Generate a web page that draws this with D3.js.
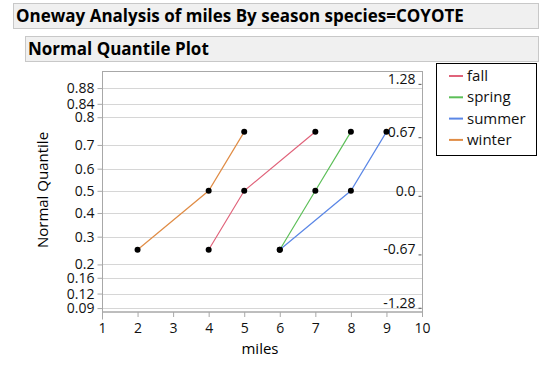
<!DOCTYPE html>
<html>
<head>
<meta charset="utf-8">
<script src="https://cdn.jsdelivr.net/npm/d3@7"></script>
<style>
  body { margin: 0; background: #fff; }
  svg { display: block; font-family: "Open Sans", "Noto Sans", sans-serif; }
</style>
</head>
<body>
<svg id="chart" width="541" height="371"></svg>
<script>
// chart data
const seasons = ["fall", "spring", "summer", "winter"];
const seasonColors = ["#e0637a", "#5cbf58", "#5b87e6", "#e08c45"];
const probs = [0.25, 0.5, 0.75];
const miles = {
    fall:   [4, 5, 7],
    spring: [6, 7, 8],
    summer: [6, 8, 9],
    winter: [2, 4, 5]
};
const xTicks = [1, 2, 3, 4, 5, 6, 7, 8, 9, 10];
const probTicks = [0.09, 0.12, 0.16, 0.2, 0.3, 0.4, 0.5, 0.6, 0.7, 0.8, 0.84, 0.88];
const zTicks = [1.28, 0.67, 0, -0.67, -1.28];
const zLabels = ["1.28", "0.67", "0.0", "-0.67", "-1.28"];

// inverse normal cdf (Acklam)
function qnorm(p) {
    const a = [-39.69683028665376, 220.9460984245205, -275.9285104469687, 138.3577518672690, -30.66479806614716, 2.506628277459239];
    const b = [-54.47609879822406, 161.5858368580409, -155.6989798598866, 66.80131188771972, -13.28068155288572];
    const c = [-0.007784894002430293, -0.3223964580411365, -2.400758277161838, -2.549732539343734, 4.374664141464968, 2.938163982698783];
    const d = [0.007784695709041462, 0.3224671290700398, 2.445134137142996, 3.754408661907416];
    const pl = 0.02425;
    let q, r;
    if (p < pl) {
        q = Math.sqrt(-2 * Math.log(p));
        return (((((c[0]*q+c[1])*q+c[2])*q+c[3])*q+c[4])*q+c[5]) / ((((d[0]*q+d[1])*q+d[2])*q+d[3])*q+1);
    } else if (p <= 1 - pl) {
        q = p - 0.5; r = q * q;
        return (((((a[0]*r+a[1])*r+a[2])*r+a[3])*r+a[4])*r+a[5])*q / (((((b[0]*r+b[1])*r+b[2])*r+b[3])*r+b[4])*r+1);
    } else {
        q = Math.sqrt(-2 * Math.log(1 - p));
        return -(((((c[0]*q+c[1])*q+c[2])*q+c[3])*q+c[4])*q+c[5]) / ((((d[0]*q+d[1])*q+d[2])*q+d[3])*q+1);
    }
}

const svg = d3.select("#chart");

// header bars
function headerBar(x, y, w, h, label) {
    svg.append("rect")
        .attr("x", x + 0.5).attr("y", y + 0.5)
        .attr("width", w).attr("height", h)
        .attr("fill", "#f0f0f0")
        .attr("stroke", "#c8c8c8");
    svg.append("text")
        .attr("x", x + 3).attr("y", y + h / 2 + 6)
        .attr("font-size", "17px")
        .attr("font-weight", "bold")
        .attr("fill", "#000")
        .text(label);
}
headerBar(13, 3, 525, 25, "Oneway Analysis of miles By season species=COYOTE");
headerBar(25, 36, 513, 25, "Normal Quantile Plot");

const plotLeft = 102, plotRight = 422, plotTop = 71, plotBottom = 311.5;

const x = d3.scaleLinear().domain([1, 10]).range([plotLeft, plotRight]);
const y = d3.scaleLinear().domain([-1.38, 1.37]).range([plotBottom, plotTop]);

// grid lines
svg.append("g").selectAll("line")
    .data(probTicks)
    .join("line")
    .attr("x1", plotLeft).attr("x2", plotRight)
    .attr("y1", d => Math.round(y(qnorm(d))) + 0.5)
    .attr("y2", d => Math.round(y(qnorm(d))) + 0.5)
    .attr("stroke", "#d6d6d6");

// frame
svg.append("rect")
    .attr("x", plotLeft + 0.5).attr("y", plotTop + 0.5)
    .attr("width", plotRight - plotLeft).attr("height", plotBottom - plotTop)
    .attr("fill", "none")
    .attr("stroke", "#a8a8a8");

// left axis (probability labels)
const yLeft = svg.append("g")
    .attr("transform", `translate(${plotLeft + 0.5},0)`)
    .call(d3.axisLeft(y).tickValues(probTicks.map(qnorm))
        .tickFormat((d, i) => String(probTicks[i]))
        .tickSize(5).tickPadding(3));
yLeft.select(".domain").attr("stroke", "#a8a8a8").attr("d", `M0,${plotTop}V${plotBottom + 8}`);
yLeft.selectAll(".tick line").attr("stroke", "#a8a8a8");
yLeft.selectAll(".tick text")
    .attr("font-size", "14px").attr("font-family", "Open Sans, Noto Sans, sans-serif").attr("fill", "#111");

// right axis (normal quantile labels, drawn inside)
const yRight = svg.append("g")
    .attr("transform", `translate(${plotRight - 0.5},0)`)
    .call(d3.axisLeft(y).tickValues(zTicks)
        .tickFormat((d, i) => zLabels[i])
        .tickSize(3).tickPadding(3));
yRight.select(".domain").remove();
yRight.selectAll(".tick line").attr("stroke", "#555").attr("transform", "translate(0,5)");
yRight.selectAll(".tick text")
    .attr("font-size", "14px").attr("font-family", "Open Sans, Noto Sans, sans-serif").attr("fill", "#111");

// bottom axis
const xAxis = svg.append("g")
    .attr("transform", `translate(0,${plotBottom + 0.5})`)
    .call(d3.axisBottom(x).tickValues(xTicks).tickSize(5).tickPadding(6));
xAxis.select(".domain").attr("stroke", "#a8a8a8").attr("d", `M${plotLeft},0H${plotRight + 0.5}`);
xAxis.selectAll(".tick line").attr("stroke", "#a8a8a8");
xAxis.selectAll(".tick text")
    .attr("font-size", "14px").attr("font-family", "Open Sans, Noto Sans, sans-serif").attr("fill", "#111");

// axis titles
svg.append("text")
    .attr("x", 260).attr("y", 354)
    .attr("text-anchor", "middle")
    .attr("font-size", "15px")
    .text("miles");
svg.append("text")
    .attr("transform", `translate(48,190) rotate(-90)`)
    .attr("text-anchor", "middle")
    .attr("font-size", "15px")
    .text("Normal Quantile");

// series lines and points
const color = d3.scaleOrdinal().domain(seasons).range(seasonColors);
const line = d3.line().x(d => x(d.miles)).y(d => y(qnorm(d.p)));

seasons.forEach(s => {
    const pts = miles[s].map((m, i) => ({ miles: m, p: probs[i] }));
    svg.append("path")
        .datum(pts)
        .attr("d", line)
        .attr("fill", "none")
        .attr("stroke", color(s))
        .attr("stroke-width", 1.2);
});

seasons.forEach(s => {
    svg.append("g").selectAll("circle")
        .data(miles[s].map((m, i) => ({ miles: m, p: probs[i] })))
        .join("circle")
        .attr("cx", d => x(d.miles))
        .attr("cy", d => y(qnorm(d.p)))
        .attr("r", 3)
        .attr("fill", "#000");
});

// legend
svg.append("rect")
    .attr("x", 436.5).attr("y", 63.5)
    .attr("width", 100).attr("height", 92)
    .attr("fill", "#fff")
    .attr("stroke", "#000");

const legend = svg.append("g").selectAll("g")
    .data(seasons)
    .join("g")
    .attr("transform", (d, i) => `translate(449,${76 + i * 21.3})`);
legend.append("line")
    .attr("x1", 0).attr("x2", 14)
    .attr("stroke", d => color(d))
    .attr("stroke-width", 2);
legend.append("text")
    .attr("x", 18).attr("y", 5)
    .attr("font-size", "15px")
    .attr("fill", "#111")
    .text(d => d);
</script>
</body>
</html>
